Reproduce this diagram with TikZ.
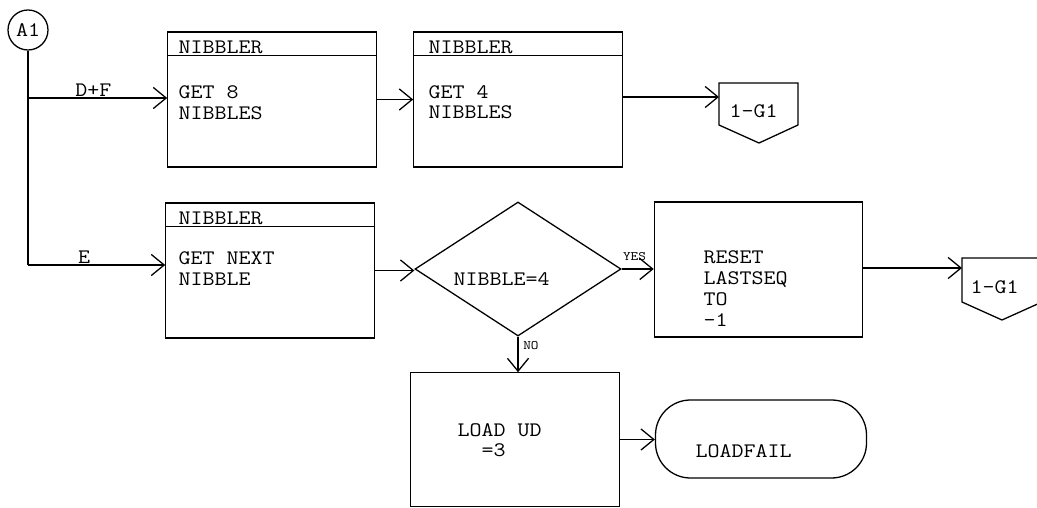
\documentclass[tikz,border=0pt]{standalone}
\usepackage{fontspec}
\setmonofont{Latin Modern Mono}[FakeStretch=1.13]
\usepackage{tikz}
\usetikzlibrary{shapes.geometric, arrows.meta}

\begin{document}
\begin{tikzpicture}[x=0.03cm, y=-0.03cm, line width=1.1pt,
    every node/.style={font=\fontsize{17.6}{17.8}\selectfont\ttfamily},
    box/.style={draw, rectangle, minimum width=6.25cm, minimum height=4.05cm, inner sep=0pt},
    nibbox/.style={box, path picture={\draw ([yshift=-0.7cm]path picture bounding box.north west) -- ([yshift=-0.7cm]path picture bounding box.north east);}},
    txt/.style={anchor=north west, align=left, inner sep=0pt},
    btxt/.style={anchor=base west, inner sep=0pt},
    flow/.style={-{Straight Barb[length=11pt, width=18pt]}},
    yn/.style={font=\fontsize{11}{11}\selectfont\ttfamily, inner sep=1pt}]
    \useasboundingbox (0,0) rectangle (1037,508);

    % Draw nodes
    \node[circle, draw, minimum size=1.2cm, inner sep=0pt] (a1) at (28,30) {A1};
    \node[nibbox] (get8) at (272,99.5) {};
    \node[nibbox] (get4) at (518,99.5) {};
    \node[nibbox] (next) at (270,270.5) {};
    \node[diamond, draw, minimum width=6.18cm, minimum height=4.02cm, inner sep=0pt] (test) at (518,269) {};
    \node[box] (reset) at (758.5,269.5) {};
    \node[box, minimum height=4cm] (load) at (515,439.5) {};
    \node[rectangle, draw, rounded corners=1.05cm, minimum width=6.33cm, minimum height=2.34cm] (fail) at (761,439) {};

    % Off-page connectors
    \draw (719,83) -- (798,83) -- (798,125) -- (759,143) -- (719,125) -- cycle;
    \draw (962,258) -- (1042,258) -- (1042,302) -- (1002,320) -- (962,302) -- cycle;
    \coordinate (offa) at (719,97);
    \coordinate (offb) at (962,268);
    \coordinate (dfturn) at (28,98);
    \coordinate (eturn) at (28,265);

    % Texts
    \node[btxt] (hdr8) at (178,54) {NIBBLER};
    \node[txt] (get8t) at (178,85.5) {GET 8\\NIBBLES};
    \node[btxt] (hdr4) at (428,54) {NIBBLER};
    \node[txt] (get4t) at (428,84.5) {GET 4\\NIBBLES};
    \node[btxt] (hdrn) at (178,224) {NIBBLER};
    \node[txt] (nextt) at (178,251.5) {GET NEXT\\NIBBLE};
    \node[btxt] (testt) at (453,285) {NIBBLE=4};
    \node[txt] (resett) at (703,250.5) {RESET\\LASTSEQ\\TO\\-1};
    \node[txt] (loadt) at (457,422.5) {LOAD UD\\\phantom{LO}=3};
    \node[btxt] (failt) at (695,457) {LOADFAIL};
    \node[btxt] (g1a) at (729,118) {1-G1};
    \node[btxt] (g1b) at (970,293) {1-G1};

    % Draw connections
    \draw (a1) -- (eturn);
    \draw[flow] (dfturn) -- (dfturn -| get8.west) node[pos=0.47, above, inner sep=1pt] (dflab) {D+F};
    \draw[flow] (eturn) -- (eturn -| next.west) node[pos=0.41, above, inner sep=1pt] (elab) {E};
    \draw[flow] (get8.east) -- (get4.west);
    \draw[flow] (get4.east |- offa) -- (offa);
    \draw[flow] (next.east) -- (next.east -| test.west);
    \draw[flow] (test.east) -- (test.east -| reset.west) node[yn, pos=0.4, above=6pt] (yes) {YES};
    \draw[flow] (test.south) -- (test.south |- load.north) node[yn, pos=0.25, right=3pt] (no) {NO};
    \draw[flow] (reset.east |- offb) -- (offb);
    \draw[flow] (load.east) -- (load.east -| fail.west);
\end{tikzpicture}
\end{document}
